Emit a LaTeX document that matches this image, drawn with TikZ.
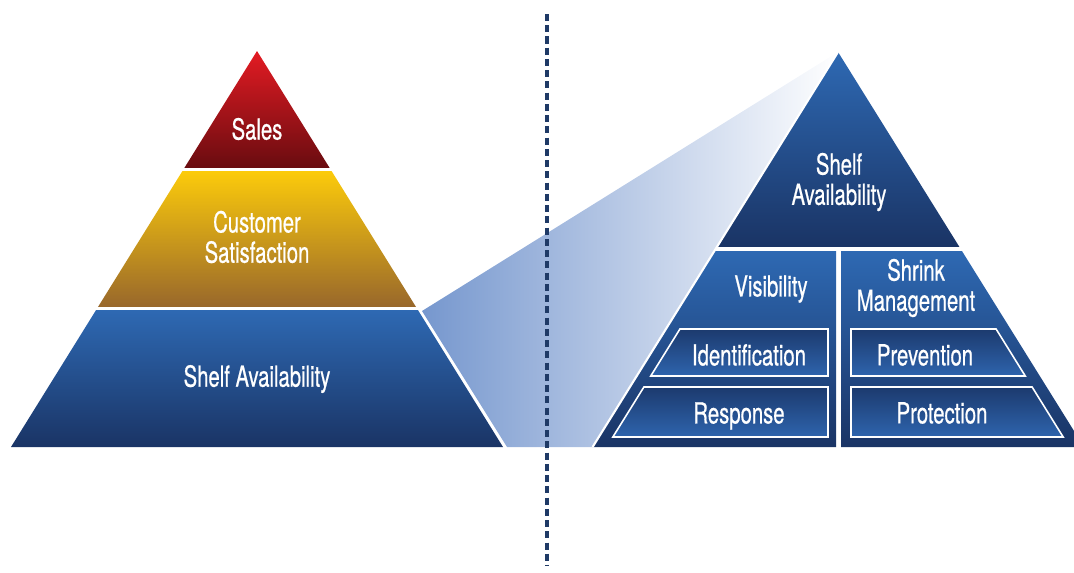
\documentclass[tikz,border=0pt]{standalone}
\usepackage{fontspec}
\setmainfont[FakeStretch=0.7,FakeBold=0.6]{TeX Gyre Heros}
\definecolor{salestop}{HTML}{E31B23}
\definecolor{salesbot}{HTML}{6A0C10}
\definecolor{custtop}{HTML}{FCCB0B}
\definecolor{custbot}{HTML}{99682B}
\definecolor{bluetop}{HTML}{2E69B3}
\definecolor{bluebot}{HTML}{1A3465}
\definecolor{boxtop}{HTML}{1C3A6E}
\definecolor{boxbot}{HTML}{2E64AD}
\definecolor{funnel}{HTML}{7697CE}
\definecolor{dashcol}{HTML}{1F3A66}

\begin{document}
\begin{tikzpicture}[
x=0.02cm,
y=-0.02cm,
lbl/.style={
  text=white,
  align=center,
  font=\fontsize{16.5}{17.2}\selectfont
  },
band/.style={
  top color=#1top,
  bottom color=#1bot
  },
box/.style={
  draw=white,
  line width=0.9pt,
  top color=boxtop,
  bottom color=boxbot
  },
sep/.style={
  draw=white,
  line width=1.2pt
  },
divider/.style={
  draw=dashcol,
  line width=2pt,
  dash pattern=on 4pt off 2.4pt
  }
]
\useasboundingbox (0,0) rectangle (1074,572);

\path[left color=funnel, right color=white] (422,311) -- (838,52) -- (592.6,447) -- (507,447) -- cycle;

\begin{scope}
\clip (257,51) -- (11,447) -- (503,447) -- cycle;
\shade[band=sales] (0,51) rectangle (520,167);
\shade[band=cust] (0,171) rectangle (520,306);
\shade[band=blue] (0,310) rectangle (520,447);
\end{scope}

\begin{scope}
\clip (838,52) -- (592.6,447) -- (1084,447) -- cycle;
\shade[band=blue] (580,52) rectangle (1090,246);
\shade[band=blue] (580,251) rectangle (836,447);
\shade[band=blue] (841,251) rectangle (1090,447);
\end{scope}
\draw[sep] (838,52) -- (592.6,447);

\foreach \ya/\yb/\nm/\txt/\tx/\ty in {329/376/ident/Identification/749/355, 387/437/resp/Response/739/416}
{
  \pgfmathsetmacro\xa{852-(\ya-52)*0.6212}
  \pgfmathsetmacro\xb{852-(\yb-52)*0.6212}
  \path[box] (\xa,\ya) -- (828,\ya) -- (828,\yb) -- (\xb,\yb) -- cycle;
  \node[lbl] (\nm) at (\tx,\ty) {\txt};
}
\foreach \ya/\yb/\nm/\txt/\tx/\ty in {329/376/prev/Prevention/925/355, 387/437/prot/Protection/942/413}
{
  \pgfmathsetmacro\xa{824+(\ya-52)*0.6212}
  \pgfmathsetmacro\xb{824+(\yb-52)*0.6212}
  \path[box] (851,\ya) -- (\xa,\ya) -- (\xb,\yb) -- (851,\yb) -- cycle;
  \node[lbl] (\nm) at (\tx,\ty) {\txt};
}

\node[lbl] (sales) at (257,129) {Sales};
\node[lbl] (custsat) at (257,237) {Customer\\Satisfaction};
\node[lbl] (shelfl) at (257,379) {Shelf Availability};
\node[lbl] (shelfr) at (839,182) {Shelf\\Availability};
\node[lbl] (visib) at (771,289) {Visibility};
\node[lbl] (shrink) at (916,288) {Shrink\\Management};

\draw[divider] (547,14) -- (547,565);

\end{tikzpicture}
\end{document}
